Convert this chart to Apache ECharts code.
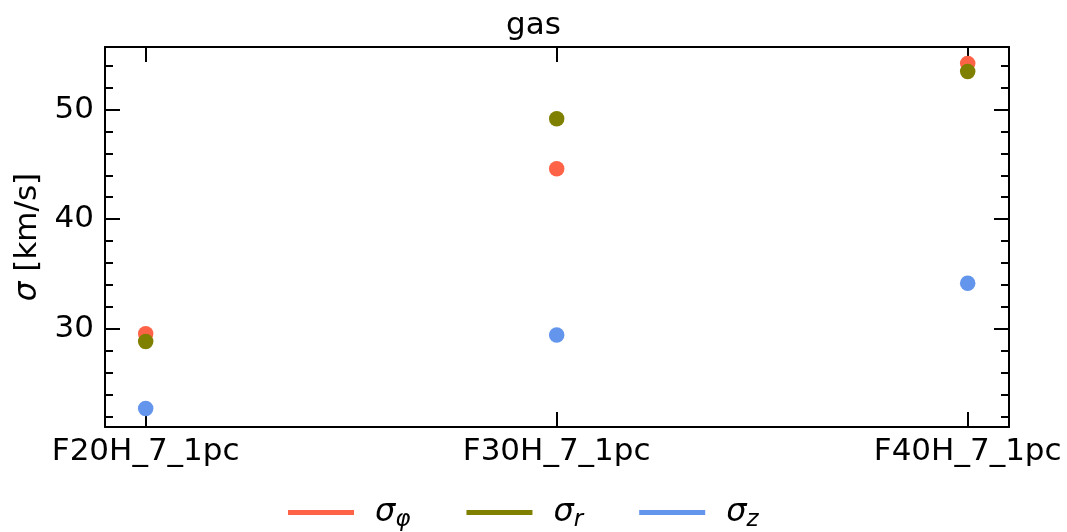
<!DOCTYPE html>
<html><head><meta charset="utf-8">
<script src="https://cdn.jsdelivr.net/npm/echarts@6/dist/echarts.min.js"></script>
<style>html,body{margin:0;padding:0;background:#fff}#c{width:1067px;height:532px}</style>
</head><body><div id="c"></div>
<script>
const categories = ['F20H_7_1pc', 'F30H_7_1pc', 'F40H_7_1pc'];
const sigmaPhi = [29.55, 44.6, 54.19];
const sigmaR = [28.84, 49.15, 53.46];
const sigmaZ = [22.74, 29.43, 34.16];
const yMajorTicks = [30, 40, 50];
const yMinorTicks = [22, 24, 26, 28, 32, 34, 36, 38, 42, 44, 46, 48, 52, 54];
const seriesNames = ['σφ', 'σr', 'σz'];
const seriesSubs = ['φ', 'r', 'z'];
const colors = ['#FF6347', '#808000', '#6495ED'];

const xMin = -0.099, xMax = 2.1005, yMin = 21.05, yMax = 55.7;
const FONT = 'DejaVu Sans';
const FS = 31;
const chart = echarts.init(document.getElementById('c'), null, {renderer: 'canvas'});

function yAx(pos, ticks, len, labels, line) {
  return {
    type: 'value', position: pos, min: yMin, max: yMax,
    splitLine: {show: false},
    axisLine: {show: line, onZero: false, lineStyle: {color: '#000', width: 2}},
    axisTick: {show: true, inside: true, length: len, customValues: ticks, lineStyle: {color: '#000', width: 2}},
    axisLabel: {show: labels, customValues: ticks, color: '#000', fontFamily: FONT, fontSize: FS, margin: 11},
  };
}
const yAxes = [
  Object.assign(yAx('left', yMajorTicks, 15, true, true), {
    name: '{i|σ} [km/s]', nameLocation: 'middle', nameGap: 60, nameRotate: 90,
    nameTextStyle: {color: '#000', fontFamily: FONT, fontSize: FS, rich: {i: {fontStyle: 'italic', fontFamily: FONT, fontSize: FS, color: '#000'}}}
  }),
  yAx('left', yMinorTicks, 8, false, false),
  yAx('right', yMajorTicks, 15, false, true),
  yAx('right', yMinorTicks, 8, false, false),
];
function xAx(pos, labels) {
  return {
    type: 'value', position: pos, min: xMin, max: xMax,
    splitLine: {show: false},
    axisLine: {show: true, onZero: false, lineStyle: {color: '#000', width: 2}},
    axisTick: {show: true, inside: true, length: 15, customValues: [0, 1, 2], lineStyle: {color: '#000', width: 2}},
    axisLabel: {show: labels, customValues: [0, 1, 2], formatter: v => categories[Math.round(v)] || '', color: '#000', fontFamily: FONT, fontSize: FS, margin: 9},
  };
}
const series = [sigmaPhi, sigmaR, sigmaZ].map((vals, i) => ({
  type: 'scatter', name: seriesNames[i], xAxisIndex: 0, yAxisIndex: 0,
  symbol: 'circle', symbolSize: 15.5, itemStyle: {color: colors[i], opacity: 1},
  data: vals.map((v, k) => [k, v]),
}));

chart.setOption({
  animation: false,
  color: colors,
  title: {text: 'gas', left: 'center', top: 5, textStyle: {fontFamily: FONT, fontSize: FS, fontWeight: 'normal', color: '#000'}},
  grid: {left: 105, right: 58, top: 47, bottom: 105, containLabel: false},
  xAxis: [xAx('bottom', true), xAx('top', false)],
  yAxis: yAxes,
  legend: {
    bottom: -5, left: 283, icon: 'rect', itemWidth: 66, itemHeight: 5, itemGap: 56,
    data: seriesNames,
    formatter: name => '{s|σ}{sub|' + seriesSubs[seriesNames.indexOf(name)] + '}',
    textStyle: {padding: [0, 0, 0, 16], fontFamily: FONT, color: '#000',
      rich: {s: {fontStyle: 'italic', fontSize: 32, fontFamily: FONT, color: '#000'},
             sub: {fontStyle: 'italic', fontSize: 23, fontFamily: FONT, color: '#000', verticalAlign: 'bottom', padding: [16, 0, 0, 0]}}}
  },
  series: series,
});
</script></body></html>
